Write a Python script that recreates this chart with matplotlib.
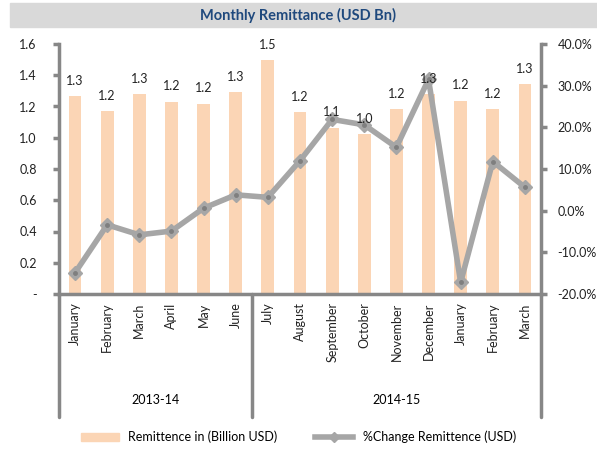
import matplotlib.pyplot as plt
from matplotlib.patches import Rectangle, Patch
from matplotlib.lines import Line2D
import numpy as np

months = ['January', 'February', 'March', 'April', 'May', 'June',
          'July', 'August', 'September', 'October', 'November', 'December',
          'January', 'February', 'March']
years = ['2013-14', '2014-15']
year_sizes = [6, 9]
remit = [1.265, 1.171, 1.28, 1.231, 1.218, 1.293, 1.495, 1.165,
         1.064, 1.024, 1.184, 1.28, 1.237, 1.184, 1.342]
pct_change = [-14.9, -3.4, -5.8, -4.9, 0.6, 3.8, 3.2, 12.0,
              21.9, 20.6, 15.2, 31.5, -17.2, 11.8, 5.6]

plt.rcParams['font.family'] = ['Lato', 'DejaVu Sans']
axis_grey = '#878787'
bar_col = '#FBD5B5'
line_col = '#A6A6A6'
fs = 9

fig = plt.figure(figsize=(5.97, 4.5), dpi=100)
fig.patches.append(Rectangle((10 / 597, 1 - 27 / 450), 1, 24 / 450,
                             transform=fig.transFigure, color='#D9D9D9', zorder=0))
fig.text(0.5, 1 - 15 / 450, 'Monthly Remittance (USD Bn)', ha='center', va='center',
         fontsize=10.5, fontweight='bold', color='#1F497D')

ax = fig.add_axes([59 / 597, 1 - 294 / 450, 482 / 597, 250 / 450])
ax2 = ax.twinx()
ax.set_zorder(1)
ax2.set_zorder(2)
ax.patch.set_visible(False)

x = np.arange(len(months))
ax.bar(x, remit, width=0.4, color=bar_col, zorder=1)
# labels drawn on top of the line
for xi, v in zip(x, remit):
    ax2.text(xi, v + 0.06, f'{v:.1f}', transform=ax.transData, ha='center', va='bottom',
             fontsize=fs, color='#222222', zorder=5)

ax.set_xlim(-0.5, len(months) - 0.5)
ax.set_ylim(0, 1.6)
yt = np.arange(0, 1.61, 0.2)
ax.set_yticks(yt)
ax.set_yticklabels(['-'] + [f'{t:.1f}' for t in yt[1:]])

ax2.plot(x, pct_change, color=line_col, lw=4, marker='D', ms=7,
         mfc=line_col, mec=line_col, solid_joinstyle='round', zorder=3)
ax2.plot(x, pct_change, ls='none', marker='o', ms=2.5, color='#7F7F7F', zorder=3)
ax2.set_ylim(-20, 40)
ax2.set_yticks(np.arange(-20, 41, 10))
ax2.set_yticklabels([f'{t:.1f}%' for t in np.arange(-20, 41, 10)])

for a in (ax, ax2):
    for s in a.spines.values():
        s.set_visible(False)
    a.tick_params(labelsize=fs, colors='#222222', length=4, width=2.5, color=axis_grey)
ax.spines['left'].set_visible(True)
ax.spines['bottom'].set_visible(True)
ax2.spines['right'].set_visible(True)
for s in (ax.spines['left'], ax.spines['bottom'], ax2.spines['right']):
    s.set_color(axis_grey)
    s.set_linewidth(2.5)
ax.tick_params(axis='y', pad=12)
ax2.tick_params(axis='y', pad=8)
ax.tick_params(axis='x', length=0)
ax.set_xticks(x)
ax.set_xticklabels(months, rotation=90, va='top', ha='center', fontsize=fs)
ax.tick_params(axis='x', pad=6)

# group separators and year labels
bottom = -123 / 250 * 1.6
start = -0.5
for yr, n in zip(years, year_sizes):
    ax.plot([start, start], [0, bottom], color=axis_grey, lw=2.5, clip_on=False,
            solid_capstyle='round')
    ax.text(start + n / 2, bottom + 0.11, yr, ha='center', va='center', fontsize=fs)
    start += n
ax.plot([start, start], [0, bottom], color=axis_grey, lw=2.5, clip_on=False,
        solid_capstyle='round')

handles = [Patch(color=bar_col, label='Remittence in (Billion USD)'),
           Line2D([], [], color=line_col, lw=4, marker='D', ms=5, mfc=line_col,
                  label='%Change Remittence (USD)')]
fig.legend(handles=handles, loc='center', bbox_to_anchor=(0.5, 1 - 437 / 450), ncol=2,
           frameon=False, fontsize=fs, handlelength=3, columnspacing=3)

fig.savefig('out.png', dpi=100)
